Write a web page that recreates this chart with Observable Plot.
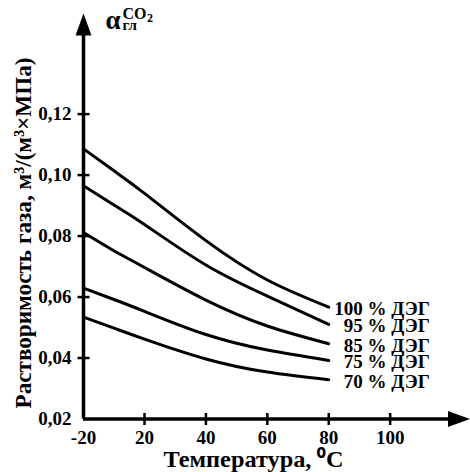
<!DOCTYPE html>
<html><head><meta charset="utf-8">
<script src="https://cdn.jsdelivr.net/npm/d3@7"></script>
<script src="https://cdn.jsdelivr.net/npm/@observablehq/plot@0.6"></script>
<style>body{margin:0;background:#fff}</style>
</head><body><div id="chart"></div>
<script>
const temperatures = [-20, 0, 20, 40, 60, 80];
const seriesNames = ["100 % ДЭГ", "95 % ДЭГ", "85 % ДЭГ", "75 % ДЭГ", "70 % ДЭГ"];
const deg100 = [0.1086, 0.1014, 0.0940, 0.0785, 0.0656, 0.0567];
const deg95  = [0.0965, 0.0902, 0.0838, 0.0705, 0.0603, 0.0510];
const deg85  = [0.0812, 0.0752, 0.0697, 0.0590, 0.0505, 0.0447];
const deg75  = [0.0629, 0.0592, 0.0553, 0.0477, 0.0426, 0.0392];
const deg70  = [0.0534, 0.0498, 0.0462, 0.0397, 0.0354, 0.0329];
const xTicks = [-20, 20, 40, 60, 80, 100];
const yTicks = [0.02, 0.04, 0.06, 0.08, 0.10, 0.12];
const xLabel = "Температура, ⁰C";
const yLabel = "Растворимость газа, м³/(м³×МПа)";

const seriesValues = [deg100, deg95, deg85, deg75, deg70];
const rows = seriesNames.flatMap((name, i) =>
  temperatures.map((t, j) => ({series: name, t, v: seriesValues[i][j]})));
const lastRows = rows.filter(d => d.t === 80);

const xMax = 126, yMax = 0.153;
const upHead = {draw(ctx) { ctx.moveTo(0, 0); ctx.lineTo(8, 22); ctx.lineTo(-8, 22); ctx.closePath(); }};
const rightHead = {draw(ctx) { ctx.moveTo(0, 0); ctx.lineTo(-22, -8); ctx.lineTo(-22, 8); ctx.closePath(); }};
const vTick = {draw(ctx) { ctx.moveTo(0, -6); ctx.lineTo(0, 6); }};
const hTick = {draw(ctx) { ctx.moveTo(-6, 0); ctx.lineTo(6, 0); }};

const font = "'Liberation Serif', 'Times New Roman', serif";

const chart = Plot.plot({
  width: 470, height: 472,
  marginLeft: 83, marginRight: 0, marginTop: 13, marginBottom: 53.5,
  x: {type: "linear", domain: [-20, 20, xMax], range: [83, 144, 469.5]},
  y: {domain: [0.02, yMax]},
  style: {fontFamily: font, fontWeight: "bold", background: "white", color: "black"},
  marks: [
    Plot.ruleX([-20], {y1: 0.02, y2: yMax - 0.004, stroke: "black", strokeWidth: 3.5}),
    Plot.ruleY([0.02], {x1: -20, x2: xMax - 4, stroke: "black", strokeWidth: 3.5}),
    Plot.dot([0], {x: () => -20, y: () => yMax, symbol: upHead, fill: "black", stroke: null}),
    Plot.dot([0], {x: () => xMax, y: () => 0.02, symbol: rightHead, fill: "black", stroke: null}),
    Plot.dot(xTicks.slice(1), {x: d => d, y: () => 0.02, symbol: vTick, stroke: "black", strokeWidth: 2.5, fill: null}),
    Plot.dot(yTicks.slice(1), {x: () => -20, y: d => d, symbol: hTick, stroke: "black", strokeWidth: 2.5, fill: null}),
    Plot.axisX(xTicks, {tickSize: 0, tickPadding: 11, tickFormat: d => String(d), fontSize: 19, label: null}),
    Plot.axisY(yTicks, {tickSize: 0, tickPadding: 12, tickFormat: d => d.toFixed(2).replace(".", ","), fontSize: 19, label: null}),
    Plot.line(rows, {x: "t", y: "v", z: "series", stroke: "black", strokeWidth: 3, curve: "natural"}),
    Plot.text(lastRows, {x: "t", y: "v", text: "series", textAnchor: "end", lineAnchor: "bottom", dx: 101, dy: 8, fontSize: 19, fill: "black"}),
    Plot.text(["α"], {frameAnchor: "top-left", textAnchor: "start", lineAnchor: "bottom", dx: 22, dy: 15, fontSize: 27}),
    Plot.text(["CO"], {frameAnchor: "top-left", textAnchor: "start", lineAnchor: "bottom", dx: 39, dy: 5, fontSize: 16}),
    Plot.text(["2"], {frameAnchor: "top-left", textAnchor: "start", lineAnchor: "bottom", dx: 63.5, dy: 8, fontSize: 12}),
    Plot.text(["гл"], {frameAnchor: "top-left", textAnchor: "start", lineAnchor: "bottom", dx: 39, dy: 16, fontSize: 15}),
    Plot.text([yLabel], {frameAnchor: "left", rotate: -90, dx: -60, dy: 16.75, fontSize: 24}),
    Plot.text([xLabel], {frameAnchor: "bottom", lineAnchor: "bottom", dx: -23.5, dy: 48, fontSize: 23})
  ]
});
function fitText(t, len) {
  t.setAttribute("text-anchor", "start");
  t.setAttribute("x", -len / 2);
  t.setAttribute("textLength", len);
  t.setAttribute("lengthAdjust", "spacingAndGlyphs");
}
chart.querySelectorAll("text").forEach(t => {
  if (t.textContent === yLabel) fitText(t, 351);
  if (t.textContent === xLabel) fitText(t, 180);
});
document.getElementById("chart").append(chart);
</script>
</body></html>
